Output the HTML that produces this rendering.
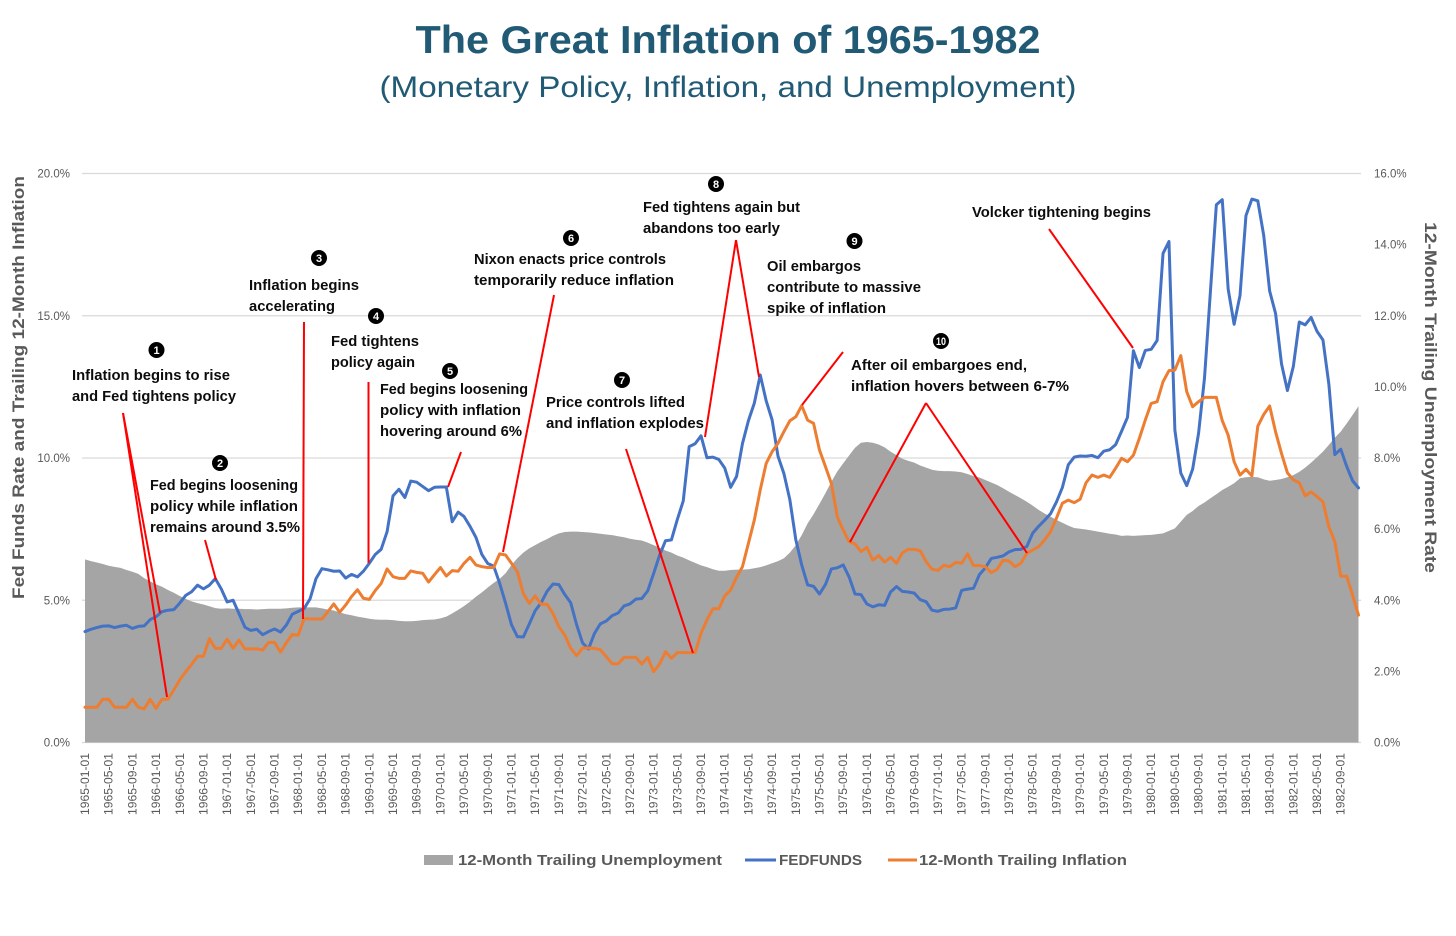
<!DOCTYPE html>
<html lang="en">
<head>
<meta charset="utf-8">
<title>The Great Inflation of 1965-1982</title>
<style>
html,body{margin:0;padding:0;background:#fff;}
body{width:1456px;height:936px;overflow:hidden;font-family:"Liberation Sans",sans-serif;}
svg{display:block;}
text{font-family:"Liberation Sans",sans-serif;}
.ann{font-size:14.6px;font-weight:700;fill:#0c0c0c;}
.num{font-size:11px;font-weight:700;fill:#fff;text-anchor:middle;}
.red{stroke:#ff0000;stroke-width:2;fill:none;}
.tick{font-size:11.5px;fill:#595959;}
.leg{font-size:15px;font-weight:700;fill:#595959;}
</style>
</head>
<body>
<svg id="chart" width="1456" height="936" viewBox="0 0 1456 936" xmlns="http://www.w3.org/2000/svg">
  <text x="728" y="53" text-anchor="middle" font-size="39" font-weight="700" fill="#215a75" textLength="625" lengthAdjust="spacingAndGlyphs">The Great Inflation of 1965-1982</text>
  <text x="728" y="97" text-anchor="middle" font-size="30" fill="#215a75" textLength="697" lengthAdjust="spacingAndGlyphs">(Monetary Policy, Inflation, and Unemployment)</text>

  <g id="grid"></g>
  <g id="marks"></g>
  <g id="axes"></g>

  <text transform="translate(24,599) rotate(-90)" font-size="17" font-weight="700" fill="#595959" textLength="423" lengthAdjust="spacingAndGlyphs">Fed Funds Rate and Trailing 12-Month Inflation</text>
  <text transform="translate(1425,222) rotate(90)" font-size="17" font-weight="700" fill="#595959" textLength="351" lengthAdjust="spacingAndGlyphs">12-Month Trailing Unemployment Rate</text>

  <g>
    <line class="red" x1="123" y1="413" x2="167" y2="697"/>
    <line class="red" x1="123" y1="413" x2="160" y2="613"/>
    <line class="red" x1="205" y1="540" x2="216" y2="580"/>
    <line class="red" x1="304" y1="322" x2="303" y2="619"/>
    <line class="red" x1="368.5" y1="382" x2="368.5" y2="563"/>
    <line class="red" x1="461" y1="452" x2="448" y2="487"/>
    <line class="red" x1="554" y1="295" x2="503" y2="552"/>
    <line class="red" x1="626" y1="449" x2="693" y2="653"/>
    <line class="red" x1="736" y1="240" x2="705" y2="437"/>
    <line class="red" x1="736" y1="240" x2="759" y2="377"/>
    <line class="red" x1="843" y1="352" x2="802" y2="405"/>
    <line class="red" x1="926" y1="403" x2="850" y2="542"/>
    <line class="red" x1="926" y1="403" x2="1027" y2="553"/>
    <line class="red" x1="1049" y1="229" x2="1133" y2="348"/>
  </g>

  <g>
    <circle cx="156.5" cy="350" r="8"/>
    <text class="num" x="156.5" y="354">1</text>
    <text class="ann" x="72" y="380" textLength="158" lengthAdjust="spacingAndGlyphs">Inflation begins to rise</text>
    <text class="ann" x="72" y="401" textLength="164" lengthAdjust="spacingAndGlyphs">and Fed tightens policy</text>
  </g>
  <g>
    <circle cx="220" cy="463" r="8"/>
    <text class="num" x="220" y="467">2</text>
    <text class="ann" x="150" y="490" textLength="148" lengthAdjust="spacingAndGlyphs">Fed begins loosening</text>
    <text class="ann" x="150" y="511" textLength="148" lengthAdjust="spacingAndGlyphs">policy while inflation</text>
    <text class="ann" x="150" y="532" textLength="150" lengthAdjust="spacingAndGlyphs">remains around 3.5%</text>
  </g>
  <g>
    <circle cx="319" cy="258" r="8"/>
    <text class="num" x="319" y="262">3</text>
    <text class="ann" x="249" y="290" textLength="110" lengthAdjust="spacingAndGlyphs">Inflation begins</text>
    <text class="ann" x="249" y="311" textLength="86" lengthAdjust="spacingAndGlyphs">accelerating</text>
  </g>
  <g>
    <circle cx="376" cy="316" r="8"/>
    <text class="num" x="376" y="320">4</text>
    <text class="ann" x="331" y="346" textLength="88" lengthAdjust="spacingAndGlyphs">Fed tightens</text>
    <text class="ann" x="331" y="367" textLength="84" lengthAdjust="spacingAndGlyphs">policy again</text>
  </g>
  <g>
    <circle cx="450" cy="371" r="8"/>
    <text class="num" x="450" y="375">5</text>
    <text class="ann" x="380" y="394" textLength="148" lengthAdjust="spacingAndGlyphs">Fed begins loosening</text>
    <text class="ann" x="380" y="415" textLength="141" lengthAdjust="spacingAndGlyphs">policy with inflation</text>
    <text class="ann" x="380" y="436" textLength="142" lengthAdjust="spacingAndGlyphs">hovering around 6%</text>
  </g>
  <g>
    <circle cx="571" cy="238" r="8"/>
    <text class="num" x="571" y="242">6</text>
    <text class="ann" x="474" y="264" textLength="192" lengthAdjust="spacingAndGlyphs">Nixon enacts price controls</text>
    <text class="ann" x="474" y="285" textLength="200" lengthAdjust="spacingAndGlyphs">temporarily reduce inflation</text>
  </g>
  <g>
    <circle cx="622" cy="380" r="8"/>
    <text class="num" x="622" y="384">7</text>
    <text class="ann" x="546" y="407" textLength="139" lengthAdjust="spacingAndGlyphs">Price controls lifted</text>
    <text class="ann" x="546" y="428" textLength="158" lengthAdjust="spacingAndGlyphs">and inflation explodes</text>
  </g>
  <g>
    <circle cx="716" cy="184" r="8"/>
    <text class="num" x="716" y="188">8</text>
    <text class="ann" x="643" y="212" textLength="157" lengthAdjust="spacingAndGlyphs">Fed tightens again but</text>
    <text class="ann" x="643" y="233" textLength="137" lengthAdjust="spacingAndGlyphs">abandons too early</text>
  </g>
  <g>
    <circle cx="854.5" cy="241" r="8"/>
    <text class="num" x="854.5" y="245">9</text>
    <text class="ann" x="767" y="271" textLength="94" lengthAdjust="spacingAndGlyphs">Oil embargos</text>
    <text class="ann" x="767" y="292" textLength="154" lengthAdjust="spacingAndGlyphs">contribute to massive</text>
    <text class="ann" x="767" y="313" textLength="119" lengthAdjust="spacingAndGlyphs">spike of inflation</text>
  </g>
  <g>
    <circle cx="941" cy="341" r="8"/>
    <text class="num" x="941" y="345" font-size="10" textLength="10" lengthAdjust="spacingAndGlyphs">10</text>
    <text class="ann" x="851" y="370" textLength="176" lengthAdjust="spacingAndGlyphs">After oil embargoes end,</text>
    <text class="ann" x="851" y="391" textLength="218" lengthAdjust="spacingAndGlyphs">inflation hovers between 6-7%</text>
  </g>
  <g>
    <text class="ann" x="972" y="217" textLength="179" lengthAdjust="spacingAndGlyphs">Volcker tightening begins</text>
  </g>

  <g>
    <g>
      <rect x="424" y="855" width="29" height="10" fill="#a5a5a5"/>
      <text class="leg" x="458" y="865" textLength="264" lengthAdjust="spacingAndGlyphs">12-Month Trailing Unemployment</text>
    </g>
    <g>
      <line x1="745" y1="860" x2="776" y2="860" stroke="#4472c4" stroke-width="3"/>
      <text class="leg" x="779" y="865" textLength="83" lengthAdjust="spacingAndGlyphs">FEDFUNDS</text>
    </g>
    <g>
      <line x1="888" y1="860" x2="917" y2="860" stroke="#ed7d31" stroke-width="3"/>
      <text class="leg" x="919" y="865" textLength="208" lengthAdjust="spacingAndGlyphs">12-Month Trailing Inflation</text>
    </g>
  </g>
</svg>
<script>
// Monthly data, 1965-01 through 1982-12 (percent)
const fedFunds = [
3.90,3.98,4.04,4.09,4.10,4.04,4.09,4.12,4.01,4.08,4.10,4.32,
4.42,4.60,4.65,4.67,4.90,5.17,5.30,5.53,5.40,5.53,5.76,5.40,
4.94,5.00,4.53,4.05,3.94,3.98,3.79,3.90,3.99,3.88,4.13,4.51,
4.61,4.71,5.05,5.76,6.11,6.07,6.02,6.03,5.78,5.91,5.82,6.02,
6.30,6.61,6.79,7.41,8.67,8.90,8.61,9.19,9.15,9.00,8.85,8.97,
8.98,8.98,7.76,8.10,7.94,7.60,7.21,6.61,6.29,6.20,5.60,4.90,
4.14,3.72,3.71,4.16,4.63,4.91,5.31,5.57,5.55,5.20,4.91,4.14,
3.50,3.29,3.83,4.17,4.27,4.46,4.55,4.80,4.87,5.04,5.06,5.33,
5.94,6.58,7.09,7.12,7.84,8.49,10.40,10.50,10.78,10.01,10.03,9.95,
9.65,8.97,9.35,10.51,11.31,11.93,12.92,12.01,11.34,10.06,9.45,8.53,
7.13,6.24,5.54,5.49,5.22,5.55,6.10,6.14,6.24,5.82,5.22,5.20,
4.87,4.77,4.84,4.82,5.29,5.48,5.31,5.29,5.25,5.02,4.95,4.65,
4.61,4.68,4.69,4.73,5.35,5.39,5.42,5.90,6.14,6.47,6.51,6.56,
6.70,6.78,6.79,6.89,7.36,7.60,7.81,8.04,8.45,8.96,9.76,10.03,
10.07,10.06,10.09,10.01,10.24,10.29,10.47,10.94,11.43,13.77,13.18,13.78,
13.82,14.13,17.19,17.61,10.98,9.47,9.03,9.61,10.87,12.81,15.85,18.90,
19.08,15.93,14.70,15.72,18.52,19.10,19.04,17.82,15.87,15.08,13.31,12.37,
13.22,14.78,14.68,14.94,14.45,14.15,12.59,10.12,10.31,9.71,9.20,8.95];

const inflation = [
1.24,1.24,1.24,1.52,1.52,1.24,1.24,1.24,1.52,1.24,1.18,1.52,
1.20,1.52,1.52,1.85,2.20,2.49,2.75,3.03,3.03,3.65,3.31,3.31,
3.63,3.31,3.60,3.29,3.29,3.29,3.25,3.52,3.52,3.18,3.51,3.80,
3.77,4.36,4.34,4.34,4.34,4.60,4.87,4.58,4.83,5.13,5.37,5.07,
5.03,5.34,5.59,6.10,5.83,5.77,5.77,6.03,5.98,5.95,5.64,5.90,
6.15,5.85,6.04,6.02,6.30,6.51,6.24,6.18,6.15,6.15,6.63,6.59,
6.30,6.00,5.24,4.89,5.15,4.86,4.86,4.54,4.07,3.78,3.31,3.05,
3.32,3.32,3.31,3.26,3.02,2.77,2.77,2.99,2.99,2.99,2.76,2.99,
2.49,2.76,3.19,2.96,3.16,3.16,3.16,3.16,3.84,4.31,4.70,4.70,
5.15,5.36,5.81,6.18,7.00,7.82,8.88,9.81,10.22,10.52,10.93,11.31,
11.45,11.84,11.33,11.22,10.28,9.70,9.11,7.94,7.47,7.06,6.98,6.71,
6.86,6.41,6.57,6.34,6.51,6.30,6.67,6.79,6.79,6.74,6.36,6.09,
6.05,6.23,6.18,6.33,6.30,6.63,6.22,6.22,6.18,5.97,6.09,6.41,
6.38,6.18,6.30,6.65,6.77,6.88,7.12,7.41,7.88,8.41,8.52,8.43,
8.55,9.13,9.40,9.32,9.40,9.32,9.64,9.99,9.87,10.10,10.69,11.33,
11.92,11.98,12.68,13.07,13.09,13.60,12.33,11.80,11.98,12.13,12.13,12.13,
11.31,10.80,9.87,9.40,9.60,9.37,11.12,11.53,11.83,10.92,10.16,9.48,
9.23,9.13,8.67,8.81,8.64,8.46,7.58,7.06,5.85,5.85,5.18,4.48];

const unemployment = [
5.15,5.10,5.06,5.02,4.97,4.94,4.91,4.85,4.80,4.74,4.62,4.53,
4.45,4.38,4.29,4.21,4.12,4.04,3.97,3.92,3.88,3.83,3.78,3.76,
3.77,3.76,3.76,3.75,3.75,3.74,3.75,3.76,3.76,3.76,3.77,3.79,
3.80,3.80,3.80,3.80,3.77,3.74,3.71,3.66,3.61,3.58,3.54,3.51,
3.48,3.46,3.45,3.45,3.44,3.42,3.41,3.41,3.42,3.44,3.45,3.46,
3.49,3.54,3.63,3.73,3.84,3.96,4.10,4.22,4.36,4.49,4.60,4.76,
4.99,5.18,5.34,5.46,5.55,5.64,5.72,5.81,5.88,5.92,5.93,5.93,
5.92,5.91,5.89,5.87,5.85,5.83,5.80,5.77,5.73,5.70,5.68,5.62,
5.55,5.48,5.40,5.34,5.26,5.20,5.12,5.05,4.98,4.93,4.87,4.83,
4.83,4.85,4.86,4.86,4.87,4.90,4.93,4.98,5.04,5.10,5.18,5.34,
5.55,5.83,6.16,6.42,6.71,7.01,7.33,7.62,7.85,8.07,8.29,8.43,
8.45,8.43,8.38,8.30,8.18,8.08,7.98,7.92,7.87,7.79,7.73,7.67,
7.64,7.63,7.63,7.62,7.60,7.55,7.49,7.45,7.38,7.31,7.24,7.15,
7.05,6.96,6.87,6.77,6.66,6.54,6.44,6.35,6.26,6.18,6.10,6.03,
6.01,5.99,5.96,5.93,5.90,5.87,5.85,5.81,5.82,5.81,5.82,5.83,
5.84,5.86,5.88,5.95,6.02,6.21,6.40,6.51,6.65,6.75,6.87,6.98,
7.10,7.19,7.29,7.43,7.46,7.47,7.46,7.40,7.36,7.38,7.41,7.46,
7.52,7.61,7.73,7.87,8.02,8.18,8.37,8.57,8.74,8.97,9.21,9.46];

// X tick labels, one every four months
const xTickLabels = [
"1965-01-01","1965-05-01","1965-09-01","1966-01-01","1966-05-01","1966-09-01",
"1967-01-01","1967-05-01","1967-09-01","1968-01-01","1968-05-01","1968-09-01",
"1969-01-01","1969-05-01","1969-09-01","1970-01-01","1970-05-01","1970-09-01",
"1971-01-01","1971-05-01","1971-09-01","1972-01-01","1972-05-01","1972-09-01",
"1973-01-01","1973-05-01","1973-09-01","1974-01-01","1974-05-01","1974-09-01",
"1975-01-01","1975-05-01","1975-09-01","1976-01-01","1976-05-01","1976-09-01",
"1977-01-01","1977-05-01","1977-09-01","1978-01-01","1978-05-01","1978-09-01",
"1979-01-01","1979-05-01","1979-09-01","1980-01-01","1980-05-01","1980-09-01",
"1981-01-01","1981-05-01","1981-09-01","1982-01-01","1982-05-01","1982-09-01"];
const leftTicks = [0,5,10,15,20];
const rightTicks = [0,2,4,6,8,10,12,14,16];

const SVGNS = "http://www.w3.org/2000/svg";
const PLOT = {x0:85, x1:1358.5, yBase:742.5, yTop:173.5};
const LEFT_MAX = 20, RIGHT_MAX = 16;

function xScale(i){ return PLOT.x0 + i * (PLOT.x1 - PLOT.x0) / (fedFunds.length - 1); }
function yLeft(v){ return PLOT.yBase - v / LEFT_MAX * (PLOT.yBase - PLOT.yTop); }
function yRight(v){ return PLOT.yBase - v / RIGHT_MAX * (PLOT.yBase - PLOT.yTop); }
function make(tag, attrs){
  const el = document.createElementNS(SVGNS, tag);
  for (const k in attrs) el.setAttribute(k, attrs[k]);
  return el;
}
function linePath(values, y){
  return values.map((v,i)=>(i?"L":"M")+xScale(i).toFixed(2)+" "+y(v).toFixed(2)).join(" ");
}

const grid = document.getElementById("grid");
const marks = document.getElementById("marks");
const axes = document.getElementById("axes");

leftTicks.forEach(function(t){
  const line = make("line",{x1:82,x2:1361,y1:yLeft(t),y2:yLeft(t),stroke:"#d9d9d9","stroke-width":1.3});
  
  
  grid.appendChild(line);
  const lab = make("text",{class:"tick",x:70,y:yLeft(t)+4,"text-anchor":"end"});
  
  
  lab.textContent = t.toFixed(1)+"%";
  axes.appendChild(lab);
});

rightTicks.forEach(function(t){
  const lab = make("text",{class:"tick",x:1374,y:yRight(t)+4});
  
  
  lab.textContent = t.toFixed(1)+"%";
  axes.appendChild(lab);
});

xTickLabels.forEach(function(label,k){
  const x = xScale(k*4) + 4;
  const lab = make("text",{class:"tick",transform:"translate("+x.toFixed(2)+",753) rotate(-90)","text-anchor":"end",textLength:62,lengthAdjust:"spacingAndGlyphs"});
  
  
  lab.textContent = label;
  axes.appendChild(lab);
});

const areaD = linePath(unemployment, yRight) + " L"+xScale(unemployment.length-1).toFixed(2)+" "+yRight(0)+" L"+xScale(0)+" "+yRight(0)+" Z";
const area = make("path",{d:areaD,fill:"#a5a5a5"});


marks.appendChild(area);

const fedLine = make("path",{d:linePath(fedFunds,yLeft),fill:"none",stroke:"#4472c4","stroke-width":3,"stroke-linejoin":"round","stroke-linecap":"round"});


marks.appendChild(fedLine);

const infLine = make("path",{d:linePath(inflation,yLeft),fill:"none",stroke:"#ed7d31","stroke-width":3,"stroke-linejoin":"round","stroke-linecap":"round"});


marks.appendChild(infLine);
</script>
</body>
</html>
